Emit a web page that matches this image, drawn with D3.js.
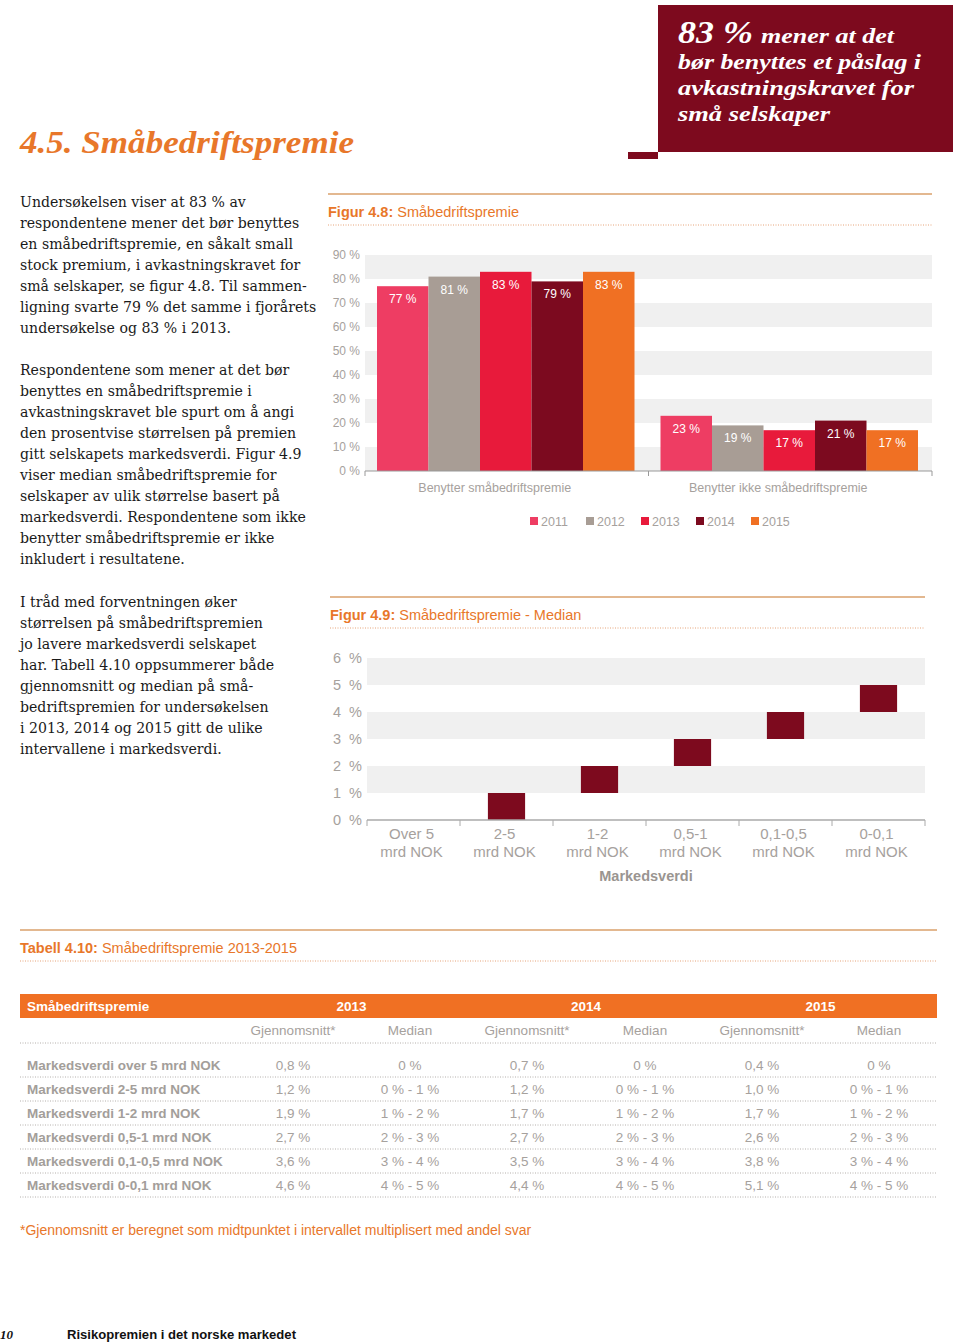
<!DOCTYPE html>
<html><head><meta charset="utf-8">
<script src="https://cdn.jsdelivr.net/npm/d3@7"></script>
<style>
body{margin:0;background:#fff;}
svg{display:block;}
.sans{font-family:"Liberation Sans",Arial,sans-serif;}
.serif{font-family:"Liberation Serif","DejaVu Serif",serif;}
.body{font-family:"DejaVu Serif",serif;}
</style></head>
<body><svg id="page" width="960" height="1344"></svg>
<script>
// ---------- DATA ----------
const groups = ["Benytter småbedriftspremie", "Benytter ikke småbedriftspremie"];
const years = ["2011", "2012", "2013", "2014", "2015"];
const usesPremium = [77, 81, 83, 79, 83];
const notUsesPremium = [23, 19, 17, 21, 17];
const yearColors = ["#ee3d63", "#a89d95", "#e81a3b", "#7c0a1f", "#f07023"];
const fig48Ticks = [0, 10, 20, 30, 40, 50, 60, 70, 80, 90];

const mvCategories = [["Over 5", "mrd NOK"], ["2-5", "mrd NOK"], ["1-2", "mrd NOK"], ["0,5-1", "mrd NOK"], ["0,1-0,5", "mrd NOK"], ["0-0,1", "mrd NOK"]];
const medianLow = [0, 0, 1, 2, 3, 4];
const medianHigh = [0, 1, 2, 3, 4, 5];
const fig49Ticks = [0, 1, 2, 3, 4, 5, 6];

const tableYears = ["2013", "2014", "2015"];
const tableSubHeads = ["Gjennomsnitt*", "Median", "Gjennomsnitt*", "Median", "Gjennomsnitt*", "Median"];
const tableRows = ["Markedsverdi over 5 mrd NOK", "Markedsverdi 2-5 mrd NOK", "Markedsverdi 1-2 mrd NOK", "Markedsverdi 0,5-1 mrd NOK", "Markedsverdi 0,1-0,5 mrd NOK", "Markedsverdi 0-0,1 mrd NOK"];
const avg2013 = ["0,8 %", "1,2 %", "1,9 %", "2,7 %", "3,6 %", "4,6 %"];
const med2013 = ["0 %", "0 % - 1 %", "1 % - 2 %", "2 % - 3 %", "3 % - 4 %", "4 % - 5 %"];
const avg2014 = ["0,7 %", "1,2 %", "1,7 %", "2,7 %", "3,5 %", "4,4 %"];
const med2014 = ["0 %", "0 % - 1 %", "1 % - 2 %", "2 % - 3 %", "3 % - 4 %", "4 % - 5 %"];
const avg2015 = ["0,4 %", "1,0 %", "1,7 %", "2,6 %", "3,8 %", "5,1 %"];
const med2015 = ["0 %", "0 % - 1 %", "1 % - 2 %", "2 % - 3 %", "3 % - 4 %", "4 % - 5 %"];

const para1 = ["Undersøkelsen viser at 83 % av", "respondentene mener det bør benyttes", "en småbedriftspremie, en såkalt small", "stock premium, i avkastningskravet for", "små selskaper, se figur 4.8. Til sammen-", "ligning svarte 79 % det samme i fjorårets", "undersøkelse og 83 % i 2013."];
const para2 = ["Respondentene som mener at det bør", "benyttes en småbedriftspremie i", "avkastningskravet ble spurt om å angi", "den prosentvise størrelsen på premien", "gitt selskapets markedsverdi. Figur 4.9", "viser median småbedriftspremie for", "selskaper av ulik størrelse basert på", "markedsverdi. Respondentene som ikke", "benytter småbedriftspremie er ikke", "inkludert i resultatene."];
const para3 = ["I tråd med forventningen øker", "størrelsen på småbedriftspremien", "jo lavere markedsverdi selskapet", "har. Tabell 4.10 oppsummerer både", "gjennomsnitt og median på små-", "bedriftspremien for undersøkelsen", "i 2013, 2014 og 2015 gitt de ulike", "intervallene i markedsverdi."];

// ---------- PAGE ----------
const svg = d3.select("#page");
const ORANGE = "#e8772a", TAN = "#e3b890", GRAYTXT = "#a6a19d", GRAYBAND = "#f0f0f0";

// header box
svg.append("rect").attr("x", 658).attr("y", 5).attr("width", 295).attr("height", 147).attr("fill", "#7d0a1e");
svg.append("rect").attr("x", 628).attr("y", 152).attr("width", 30).attr("height", 7).attr("fill", "#7d0a1e");
function boxLine(x, y, size, len, txt) {
  svg.append("text").attr("class", "serif").attr("fill", "#fff").attr("font-weight", "bold").attr("font-style", "italic")
    .attr("x", x).attr("y", y).attr("font-size", size).attr("textLength", len).attr("lengthAdjust", "spacingAndGlyphs").text(txt);
}
boxLine(678, 43, 31, 75, "83 %");
boxLine(761, 43, 22, 133, "mener at det");
boxLine(678, 69, 22, 243, "bør benyttes et påslag i");
boxLine(678, 95, 22, 236, "avkastningskravet for");
boxLine(678, 121, 22, 152, "små selskaper");

svg.append("text").attr("class", "serif").attr("x", 20).attr("y", 153).attr("font-size", 32)
  .attr("font-weight", "bold").attr("font-style", "italic").attr("fill", ORANGE)
  .attr("textLength", 334).attr("lengthAdjust", "spacingAndGlyphs").text("4.5. Småbedriftspremie");

// body text
function para(lines, y0) {
  const t = svg.append("text").attr("class", "body").attr("font-size", 14.1).attr("fill", "#1a1a1a");
  lines.forEach((l, i) => t.append("tspan").attr("x", 20).attr("y", y0 + i * 21).text(l));
}
para(para1, 207);
para(para2, 375);
para(para3, 607);

// figure heading helper
function figHead(x1, x2, yLine, label, rest) {
  svg.append("line").attr("x1", x1).attr("x2", x2).attr("y1", yLine).attr("y2", yLine).attr("stroke", TAN).attr("stroke-width", 2);
  const t = svg.append("text").attr("class", "sans").attr("x", x1).attr("y", yLine + 23).attr("font-size", 14.5).attr("fill", ORANGE);
  t.append("tspan").attr("font-weight", "bold").text(label);
  t.append("tspan").text(rest);
  svg.append("line").attr("x1", x1).attr("x2", x2).attr("y1", yLine + 31).attr("y2", yLine + 31)
    .attr("stroke", "#e6a47a").attr("stroke-width", 1).attr("stroke-dasharray", "1,1.5");
}

// ---------- FIG 4.8 ----------
figHead(328, 932, 194, "Figur 4.8:", " Småbedriftspremie");
const y48 = d3.scaleLinear().domain([0, 90]).range([471, 255]);
const x0 = d3.scaleBand().domain(groups).range([365, 932]);
const x1 = d3.scaleBand().domain(years).range([12, x0.bandwidth() - 14]);
const g48 = svg.append("g");
[[0, 10], [20, 30], [40, 50], [60, 70], [80, 90]].forEach(b => {
  g48.append("rect").attr("x", 365).attr("width", 567).attr("y", y48(b[1])).attr("height", y48(b[0]) - y48(b[1])).attr("fill", GRAYBAND);
});
const yAx48 = g48.append("g").attr("transform", "translate(365,0)")
  .call(d3.axisLeft(y48).tickValues(fig48Ticks).tickSize(0).tickPadding(5).tickFormat(d => d + " %"));
yAx48.select(".domain").remove();
yAx48.selectAll("text").attr("class", "sans").attr("font-size", 12).attr("fill", GRAYTXT);
const series48 = [usesPremium, notUsesPremium];
groups.forEach((grp, gi) => {
  const gg = g48.append("g").attr("transform", `translate(${x0(grp)},0)`);
  years.forEach((yr, i) => {
    const v = series48[gi][i];
    gg.append("rect").attr("x", x1(yr)).attr("width", x1.bandwidth()).attr("y", y48(v)).attr("height", y48(0) - y48(v)).attr("fill", yearColors[i]);
    gg.append("text").attr("class", "sans").attr("x", x1(yr) + x1.bandwidth() / 2).attr("y", y48(v) + 17)
      .attr("text-anchor", "middle").attr("font-size", 12).attr("fill", "#fff").text(v + " %");
  });
});
const xAx48 = g48.append("g").attr("transform", "translate(-12,471)")
  .call(d3.axisBottom(x0).tickSize(0).tickPadding(12));
xAx48.select(".domain").remove();
xAx48.selectAll("text").attr("class", "sans").attr("font-size", 12.5).attr("fill", GRAYTXT);
g48.append("path").attr("d", "M365,476V471H932V476").attr("fill", "none").attr("stroke", "#999");
g48.append("line").attr("x1", x0(groups[1])).attr("x2", x0(groups[1])).attr("y1", 471).attr("y2", 476).attr("stroke", "#999");
// legend
const legX = [530, 586, 641, 696, 751];
years.forEach((yr, i) => {
  g48.append("rect").attr("x", legX[i]).attr("y", 517).attr("width", 8).attr("height", 8).attr("fill", yearColors[i]);
  g48.append("text").attr("class", "sans").attr("x", legX[i] + 11).attr("y", 526).attr("font-size", 12.5).attr("fill", GRAYTXT).text(yr);
});

// ---------- FIG 4.9 ----------
figHead(330, 925, 597, "Figur 4.9:", " Småbedriftspremie - Median");
const y49 = d3.scaleLinear().domain([0, 6]).range([820, 658]);
const catKeys = mvCategories.map(c => c.join(" "));
const x49 = d3.scaleBand().domain(catKeys).range([367, 925]).paddingInner(0.6).paddingOuter(0.3);
const xb49 = d3.scaleBand().domain(catKeys).range([367, 925]);
const g49 = svg.append("g");
[[1, 2], [3, 4], [5, 6]].forEach(b => {
  g49.append("rect").attr("x", 367).attr("width", 558).attr("y", y49(b[1])).attr("height", y49(b[0]) - y49(b[1])).attr("fill", GRAYBAND);
});
const yAx49 = g49.append("g").attr("transform", "translate(367,0)")
  .call(d3.axisLeft(y49).tickValues(fig49Ticks).tickSize(0).tickPadding(5).tickFormat(d => d + "  %"));
yAx49.select(".domain").remove();
yAx49.selectAll("text").attr("class", "sans").attr("font-size", 14.5).attr("fill", GRAYTXT).attr("xml:space", "preserve").style("white-space", "pre");
catKeys.forEach((k, i) => {
  if (medianHigh[i] > medianLow[i]) {
    g49.append("rect").attr("x", x49(k)).attr("width", x49.bandwidth()).attr("y", y49(medianHigh[i]))
      .attr("height", y49(medianLow[i]) - y49(medianHigh[i])).attr("fill", "#7d0a1e");
  }
});
const xAx49 = g49.append("g").attr("transform", "translate(0,820)");
xAx49.append("line").attr("x1", 367).attr("x2", 925).attr("y1", 0).attr("y2", 0).attr("stroke", "#aaa").attr("stroke-width", 1.5);
catKeys.concat([null]).forEach((k, i) => {
  const xx = k ? xb49(k) : 925;
  xAx49.append("line").attr("x1", xx).attr("x2", xx).attr("y1", 0).attr("y2", 6).attr("stroke", "#aaa");
});
mvCategories.forEach((c, i) => {
  const t = xAx49.append("text").attr("class", "sans").attr("text-anchor", "middle").attr("font-size", 15).attr("fill", GRAYTXT);
  c.forEach((ln, j) => t.append("tspan").attr("x", x49(catKeys[i]) + x49.bandwidth() / 2 - 2).attr("y", 19 + j * 18).text(ln));
});
g49.append("text").attr("class", "sans").attr("x", 646).attr("y", 881).attr("text-anchor", "middle")
  .attr("font-size", 14.5).attr("font-weight", "bold").attr("fill", "#9a9591").text("Markedsverdi");

// ---------- TABLE ----------
figHead(20, 937, 930, "Tabell 4.10:", " Småbedriftspremie 2013-2015");
const colX = [293, 410, 527, 645, 762, 879];
svg.append("rect").attr("x", 20).attr("y", 994).attr("width", 917).attr("height", 24).attr("fill", "#f07023");
svg.append("text").attr("class", "sans").attr("x", 27).attr("y", 1011).attr("font-size", 13.5).attr("font-weight", "bold").attr("fill", "#fff").text("Småbedriftspremie");
tableYears.forEach((yr, i) => {
  svg.append("text").attr("class", "sans").attr("x", (colX[i * 2] + colX[i * 2 + 1]) / 2).attr("y", 1011).attr("text-anchor", "middle")
    .attr("font-size", 13.5).attr("font-weight", "bold").attr("fill", "#fff").text(yr);
});
tableSubHeads.forEach((h, i) => {
  svg.append("text").attr("class", "sans").attr("x", colX[i]).attr("y", 1035).attr("text-anchor", "middle")
    .attr("font-size", 13.5).attr("fill", GRAYTXT).text(h);
});
function dotLine(y) {
  svg.append("line").attr("x1", 20).attr("x2", 937).attr("y1", y).attr("y2", y)
    .attr("stroke", "#b5b0ac").attr("stroke-width", 1).attr("stroke-dasharray", "1,1.5");
}
dotLine(1043);
const cols = [avg2013, med2013, avg2014, med2014, avg2015, med2015];
tableRows.forEach((r, ri) => {
  const yy = 1070 + ri * 24;
  svg.append("text").attr("class", "sans").attr("x", 27).attr("y", yy).attr("font-size", 13.5).attr("font-weight", "bold").attr("fill", "#a39e9a").text(r);
  cols.forEach((c, ci) => {
    svg.append("text").attr("class", "sans").attr("x", colX[ci]).attr("y", yy).attr("text-anchor", "middle")
      .attr("font-size", 13.5).attr("fill", GRAYTXT).text(c[ri]);
  });
  dotLine(1077 + ri * 24);
});
svg.append("text").attr("class", "sans").attr("x", 20).attr("y", 1235).attr("font-size", 14).attr("fill", ORANGE)
  .text("*Gjennomsnitt er beregnet som midtpunktet i intervallet multiplisert med andel svar");

// footer
svg.append("text").attr("class", "serif").attr("x", 0).attr("y", 1339).attr("font-size", 13).attr("font-weight", "bold").attr("font-style", "italic").attr("fill", "#111").text("10");
svg.append("text").attr("class", "sans").attr("x", 67).attr("y", 1339).attr("font-size", 13).attr("font-weight", "bold").attr("fill", "#111")
  .attr("textLength", 229).attr("lengthAdjust", "spacingAndGlyphs").text("Risikopremien i det norske markedet");
</script></body></html>
